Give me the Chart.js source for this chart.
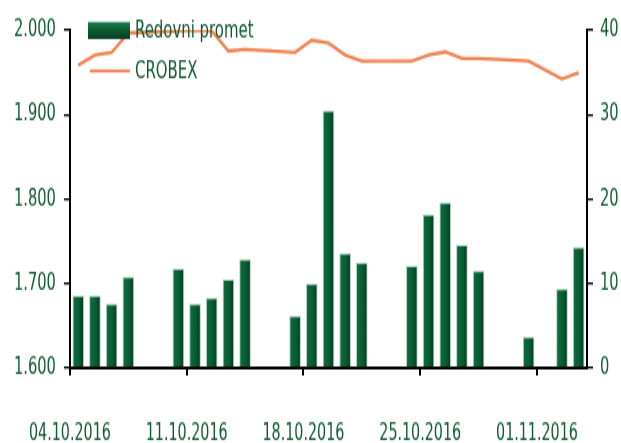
<!DOCTYPE html>
<html>
<head>
<meta charset="utf-8">
<script src="https://cdn.jsdelivr.net/npm/chart.js@4.4.0/dist/chart.umd.min.js"></script>
<style>
	html, body { margin: 0; padding: 0; background: #fff; }
</style>
</head>
<body>
<!-- canvas je nacrtan niži pa rastegnut, kao i original (visoka uska slova) -->
<canvas id="promet" width="621" height="295" style="display:block;width:621px;height:443px"></canvas>
<script>
// trgovinski dani (listopad/studeni 2016)
var tradingDays = ['04.10.2016', '05.10.2016', '06.10.2016', '07.10.2016',
	'10.10.2016', '11.10.2016', '12.10.2016', '13.10.2016', '14.10.2016',
	'17.10.2016', '18.10.2016', '19.10.2016', '20.10.2016', '21.10.2016',
	'24.10.2016', '25.10.2016', '26.10.2016', '27.10.2016', '28.10.2016',
	'31.10.2016', '02.11.2016', '03.11.2016'];
// Redovni promet (desna os)
var paramPromet = [8.6, 8.6, 7.6, 10.8, 11.8, 7.6, 8.3, 10.5, 12.9, 6.2, 10.0, 30.5,
	13.6, 12.5, 12.1, 18.2, 19.6, 14.6, 11.5, 3.7, 9.4, 14.3];
// CROBEX (lijeva os)
var paramCrobex = [1958.6, 1970.4, 1973.6, 1996.4, 1999.0, 2000.0, 1999.0, 1975.0, 1977.0,
	1973.6, 1988.0, 1984.6, 1970.4, 1963.3, 1963.3, 1970.4, 1974.3, 1966.5, 1966.5,
	1963.3, 1942.0, 1949.5];
var tickLabels = ['04.10.2016', '11.10.2016', '18.10.2016', '25.10.2016', '01.11.2016'];
var totalDays = 31;

var green = '#0e5a30';
var fontFam = '"DejaVu Sans Condensed", "Liberation Sans Narrow", sans-serif';
var sy = 443 / 295; // vertikalno rastezanje

function dayIndex(s) {
	var p = s.split('.');
	var d = new Date(+p[2], +p[1] - 1, +p[0]);
	var start = new Date(2016, 9, 4);
	return Math.round((d - start) / 86400000);
}

var barPoints = [];
var linePoints = [];
for (var i = 0; i < tradingDays.length; i++) {
	var x = dayIndex(tradingDays[i]) + 0.5;
	barPoints.push({ x: x, y: paramPromet[i] });
	linePoints.push({ x: x, y: paramCrobex[i] });
}

function fmtThousands(v) {
	var s = String(Math.round(v));
	return s.replace(/\B(?=(\d{3})+(?!\d))/g, '.');
}

// 3D-ish zeleni stupci
function barFill(c) {
	var chart = c.chart;
	if (!c.parsed || !chart.chartArea) return '#0b5e35';
	var cx = chart.scales.x.getPixelForValue(c.parsed.x);
	var g = chart.ctx.createLinearGradient(cx - 6, 0, cx + 6, 0);
	g.addColorStop(0, '#2e8a5c');
	g.addColorStop(0.15, '#0c6a3d');
	g.addColorStop(0.55, '#0a5c34');
	g.addColorStop(1, '#033a1e');
	return g;
}

var legendPlugin = {
	id: 'ownLegend',
	afterDatasetsDraw: function (chart) {
		var ctx = chart.ctx;
		ctx.save();
		var g = ctx.createLinearGradient(0, 22 / sy, 0, 39 / sy);
		g.addColorStop(0, '#1f8050');
		g.addColorStop(0.5, '#0a5a32');
		g.addColorStop(1, '#053d20');
		ctx.fillStyle = g;
		ctx.fillRect(88, 22 / sy, 42, 17 / sy);
		ctx.strokeStyle = '#ef8454';
		ctx.lineWidth = 2;
		ctx.beginPath();
		ctx.moveTo(90, 71 / sy);
		ctx.lineTo(130, 71 / sy);
		ctx.stroke();
		ctx.fillStyle = green;
		ctx.font = '16.6px ' + fontFam;
		ctx.textBaseline = 'middle';
		ctx.fillText('Redovni promet', 135, 31 / sy);
		ctx.fillText('CROBEX', 135, 72 / sy);
		ctx.restore();
	}
};

var ctx = document.getElementById('promet');

var data = {
	datasets: [{
			type: 'line',
			label: 'CROBEX',
			data: linePoints,
			yAxisID: 'y',
			borderColor: '#ef8454',
			borderWidth: 2.4,
			pointRadius: 0,
			tension: 0,
			fill: false,
			order: 0
		}, {
			type: 'bar',
			label: 'Redovni promet',
			data: barPoints,
			yAxisID: 'y1',
			backgroundColor: barFill,
			borderColor: 'rgba(170,205,185,0.9)',
			borderWidth: 1,
			borderSkipped: 'start',
			barPercentage: 0.7,
			categoryPercentage: 1.0,
			order: 1
		}
	]
};

var options = {
	responsive: false,
	animation: false,
	layout: { padding: { top: 30 / sy, left: 0, right: 0, bottom: 0 } },
	plugins: {
		legend: { display: false },
		tooltip: { enabled: false }
	},
	scales: {
		x: {
			type: 'linear',
			position: 'bottom',
			min: 0,
			max: totalDays,
			offset: false,
			afterFit: function (s) { s.height = 295 - 368 / sy; },
			border: { color: '#000', width: 2 },
			grid: { offset: false, drawOnChartArea: false, color: '#000', lineWidth: 2, tickLength: 5 },
			ticks: {
				stepSize: 7,
				includeBounds: false,
				autoSkip: false,
				maxRotation: 0,
				padding: 29,
				color: green,
				font: { family: fontFam, size: 15.9 },
				callback: function (v) { return tickLabels[v / 7]; }
			}
		},
		y: {
			position: 'left',
			min: 1600,
			max: 2000,
			afterFit: function (s) { s.width = 67; },
			border: { color: '#000', width: 2 },
			grid: { drawOnChartArea: false, color: '#000', lineWidth: 1.4, tickLength: 6 },
			ticks: {
				stepSize: 100,
				padding: 8,
				color: green,
				font: { family: fontFam, size: 16.3 },
				callback: function (v) { return fmtThousands(v); }
			}
		},
		y1: {
			position: 'right',
			min: 0,
			max: 40,
			afterFit: function (s) { s.width = 34; },
			border: { color: '#000', width: 2 },
			grid: { drawOnChartArea: false, color: '#000', lineWidth: 1.4, tickLength: 6 },
			ticks: {
				stepSize: 10,
				padding: 7,
				color: green,
				font: { family: fontFam, size: 16.3 }
			}
		}
	}
};

var chart = new Chart(ctx, {
	type: 'bar',
	data: data,
	options: options,
	plugins: [legendPlugin]
});
</script>
</body>
</html>
